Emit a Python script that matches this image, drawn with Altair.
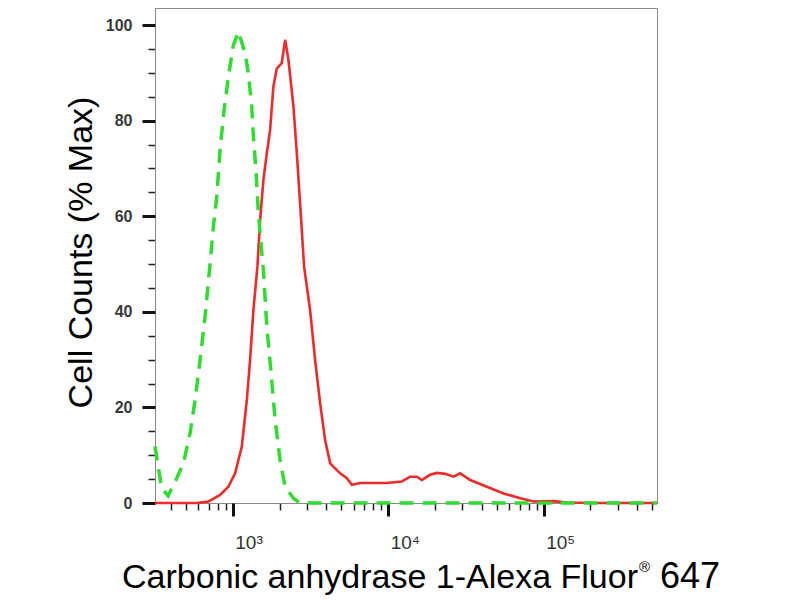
import altair as alt
import pandas as pd

# fluorescence intensity (log axis) and % max cell counts
green_x = [316, 349, 384, 436, 481, 531, 572, 616, 663, 715, 750, 789, 828, 879, 937,
           1009, 1087, 1200, 1260, 1324, 1358, 1413, 1462, 1537, 1574, 1656, 1757,
           1872, 2015, 2171, 2455, 2700, 10000, 100000, 536000]
green_y = [11.8, 3.0, 1.5, 5.2, 8.3, 14.6, 21.5, 29.9, 39.0, 50.1, 57.8, 64.1, 73.8, 82.2, 89.2,
           95.8, 98.6, 94.1, 89.9, 82.9, 76.6, 69.0, 60.6, 52.3, 48.7, 36.9, 27.8,
           17.4, 9.0, 3.4, 1.0, 0.0, 0.0, 0.0, 0.0]

red_x = [316, 586, 697, 828, 937, 1035, 1143, 1231, 1292, 1358, 1440, 1499, 1574, 1656,
         1738, 1825, 1918, 2066, 2173, 2281, 2457, 2582, 2711, 2877, 3143, 3386, 3646,
         3926, 4230, 4907, 5418, 5836, 6596, 9795, 12240, 13840, 15290, 16450, 18600,
         20540, 23240, 26300, 29040, 33680, 43120, 55180, 70670, 86080, 115800, 141200,
         231000, 536000]
red_y = [0.0, 0.0, 0.3, 1.7, 3.4, 6.2, 11.8, 21.5, 29.9, 40.4, 49.4, 59.2, 67.6, 73.2,
         78.0, 87.1, 90.9, 92.0, 96.9, 92.7, 82.9, 73.2, 62.7, 49.4, 40.4, 29.9, 20.9,
         13.2, 8.3, 6.2, 5.2, 3.8, 4.2, 4.2, 4.5, 5.5, 5.5, 4.8, 5.9,
         6.3, 6.1, 5.5, 6.2, 4.8, 3.4, 2.0, 1.0, 0.3, 0.4, 0.1,
         0.0, 0.0]

x_major = [1000, 10000, 100000]
x_major_labels = ["10³", "10⁴", "10⁵"]
x_minor = [400, 500, 600, 700, 800, 900,
           2000, 3000, 4000, 5000, 6000, 7000, 8000, 9000,
           20000, 30000, 40000, 50000, 60000, 70000, 80000, 90000,
           200000, 300000, 400000, 500000]
y_major = [0, 20, 40, 60, 80, 100]
y_minor = [5, 10, 15, 25, 30, 35, 45, 50, 55, 65, 70, 75, 85, 90, 95]

x_title = ["Carbonic anhydrase 1-Alexa Fluor", "®", "647"]
y_title = "Cell Counts (% Max)"

control = pd.DataFrame({"x": green_x, "y": green_y})
sample = pd.DataFrame({"x": red_x, "y": red_y})

label_expr = ""
for v, lab in zip(x_major, x_major_labels):
    label_expr += "datum.value == %d ? '%s' : " % (v, lab)
label_expr += "''"

x_scale = alt.Scale(type="log", domain=[316, 536000], nice=False)
y_scale = alt.Scale(domain=[0, 103.56], nice=False, zero=False)

# minor ticks on the red layer's axes
red_line = alt.Chart(sample).mark_line(color="#ee2a2a", strokeWidth=2.6).encode(
    x=alt.X("x:Q", scale=x_scale, axis=alt.Axis(
        orient="bottom", title=None, values=x_minor, labels=False, grid=False,
        tickSize=7, tickWidth=1.5, tickColor="#222", domainColor="#888")),
    y=alt.Y("y:Q", scale=y_scale, axis=alt.Axis(
        orient="left", title=None, values=y_minor, labels=False, grid=False,
        tickSize=7, tickWidth=1.5, tickColor="#222", domainColor="#888")),
)

# major ticks, labels and the y title on the green layer's axes
green_line = alt.Chart(control).mark_line(
    color="#2fdc2f", strokeWidth=3.5, strokeDash=[14, 9]
).encode(
    x=alt.X("x:Q", scale=x_scale, axis=alt.Axis(
        orient="bottom", title=None, values=x_major, labelExpr=label_expr, grid=False,
        domain=False, tickSize=13, tickWidth=3, tickColor="#111",
        labelAlign="left", labelOffset=2, labelPadding=17,
        labelFont="Liberation Sans", labelFontSize=19,
        labelColor="#333", labelFlush=False, labelOverlap=False)),
    y=alt.Y("y:Q", scale=y_scale, axis=alt.Axis(
        orient="left", title=y_title, values=y_major, grid=False,
        domain=False, tickSize=13, tickWidth=3, tickColor="#111",
        labelPadding=10, labelFontSize=16, labelFontWeight="bold",
        labelFont="Liberation Sans", labelColor="#3a3a3a", labelOverlap=False,
        titleFont="Liberation Sans", titleFontSize=34, titleFontWeight="normal",
        titleColor="black", titleAngle=-90, titleX=-74, titleY=244,
        titleAlign="center", titleBaseline="middle")),
)

one = alt.Data(values=[{}])
t_main = alt.Chart(one).mark_text(
    text=x_title[0], align="right", baseline="alphabetic", fontSize=34,
    font="Liberation Sans", color="black",
).encode(x=alt.value(483), y=alt.value(580))
t_reg = alt.Chart(one).mark_text(
    text=x_title[1], align="left", baseline="alphabetic", fontSize=15,
    font="Liberation Sans", color="black",
).encode(x=alt.value(484), y=alt.value(564))
t_num = alt.Chart(one).mark_text(
    text=x_title[2], align="left", baseline="alphabetic", fontSize=36,
    font="Liberation Sans", color="black",
).encode(x=alt.value(505), y=alt.value(580))

chart = alt.layer(red_line, green_line, t_main, t_reg, t_num).resolve_axis(
    x="independent", y="independent"
).properties(
    width=502, height=495,
    autosize=alt.AutoSizeParams(type="none"),
    padding={"left": 147, "top": 0, "right": 135, "bottom": 93},
).configure_view(
    stroke="#888", strokeWidth=1
)

chart.save("out.html", embed_options={"renderer": "svg", "actions": False})
